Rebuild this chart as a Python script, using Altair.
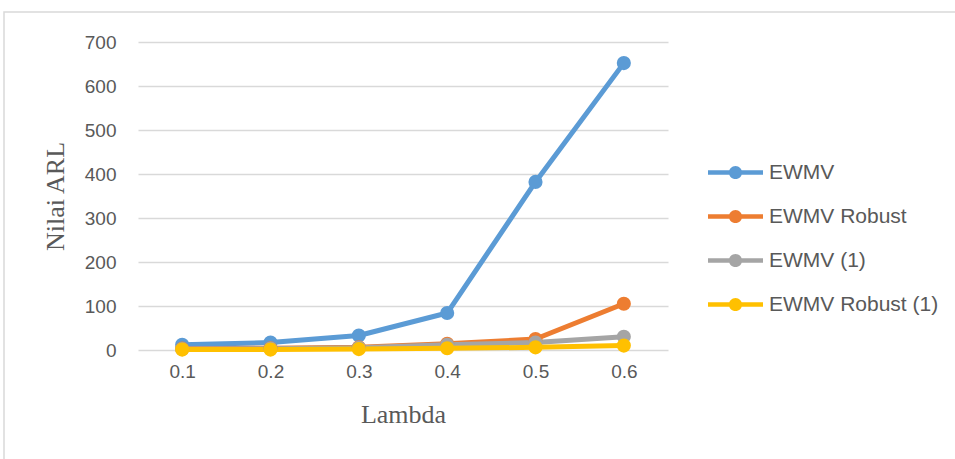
import altair as alt
import pandas as pd

# Lambda values on the x axis
lambdas = ["0.1", "0.2", "0.3", "0.4", "0.5", "0.6"]

# ARL values for each scheme
series_names = ["EWMV", "EWMV Robust", "EWMV (1)", "EWMV Robust (1)"]
ewmv = [12, 17, 33, 84, 382, 652]
ewmv_robust = [3, 4, 6, 14, 25, 105]
ewmv_1 = [2, 3, 5, 12, 17, 30]
ewmv_robust_1 = [1, 1, 2, 4, 6, 10]

colors = ["#5B9BD5", "#ED7D31", "#A5A5A5", "#FFC000"]

rows = []
for order, (name, values) in enumerate(
    zip(series_names, [ewmv, ewmv_robust, ewmv_1, ewmv_robust_1])
):
    for lam, val in zip(lambdas, values):
        rows.append({"Lambda": lam, "ARL": val, "Series": name, "order": order})
df = pd.DataFrame(rows)

text_color = "#595959"
grid_color = "#D9D9D9"

x_enc = alt.X(
    "Lambda:O",
    sort=lambdas,
    scale=alt.Scale(type="point", padding=0.5),
    axis=alt.Axis(
        title="Lambda",
        labelAngle=0,
        ticks=False,
        domain=False,
        grid=False,
        labelPadding=12,
        titlePadding=20,
    ),
)
y_enc = alt.Y(
    "ARL:Q",
    scale=alt.Scale(domain=[0, 700], nice=False),
    axis=alt.Axis(
        title="Nilai ARL",
        values=[0, 100, 200, 300, 400, 500, 600, 700],
        ticks=False,
        domain=False,
        grid=True,
        labelPadding=22,
        titlePadding=16,
    ),
)
color_scale = alt.Scale(domain=series_names, range=colors)

# legend symbol: a short thick line with a dot in the middle
legend_shape = (
    "M-1,-0.08 L1,-0.08 L1,0.08 L-1,0.08 Z "
    "M0.24,0 A0.24,0.24 0 1,1 -0.24,0 A0.24,0.24 0 1,1 0.24,0 Z"
)
legend = alt.Legend(
    title=None,
    orient="none",
    legendX=570,
    legendY=103,
    symbolType=legend_shape,
    symbolSize=3025,
    symbolStrokeWidth=0,
    symbolOpacity=1,
    labelFont="Liberation Sans",
    labelFontSize=21,
    labelColor=text_color,
    labelLimit=0,
    labelOffset=6,
    rowPadding=6,
)
color_enc = alt.Color("Series:N", scale=color_scale, legend=legend)

lines = (
    alt.Chart(df)
    .mark_line(strokeWidth=5, strokeCap="round", strokeJoin="round")
    .encode(x=x_enc, y=y_enc, color=color_enc, order="order:Q", detail="Series:N")
)

points = (
    alt.Chart(df)
    .mark_circle(size=200, opacity=1)
    .encode(x=x_enc, y=y_enc, color=color_enc, order="order:Q")
)

# outer chart-area frame
frame = (
    alt.Chart(pd.DataFrame({"k": [0]}))
    .mark_rect(fillOpacity=0, stroke=grid_color, strokeWidth=1.5)
    .encode(
        x=alt.value(-134),
        x2=alt.value(1000),
        y=alt.value(-30),
        y2=alt.value(600),
    )
)

chart = (
    alt.layer(frame, lines, points)
    .properties(
        width=530,
        height=308,
        autosize=alt.AutoSizeParams(type="none"),
        padding={"left": 138, "top": 42, "right": 287, "bottom": 109},
        background="white",
    )
    .configure_view(stroke=None)
    .configure_axis(
        labelFont="Liberation Sans",
        labelFontSize=19,
        labelColor=text_color,
        titleFont="Liberation Serif",
        titleFontSize=26,
        titleFontWeight="normal",
        titleColor=text_color,
        gridColor=grid_color,
        gridWidth=1.5,
    )
)

chart.save("out.html", embed_options={"renderer": "svg", "actions": False})
